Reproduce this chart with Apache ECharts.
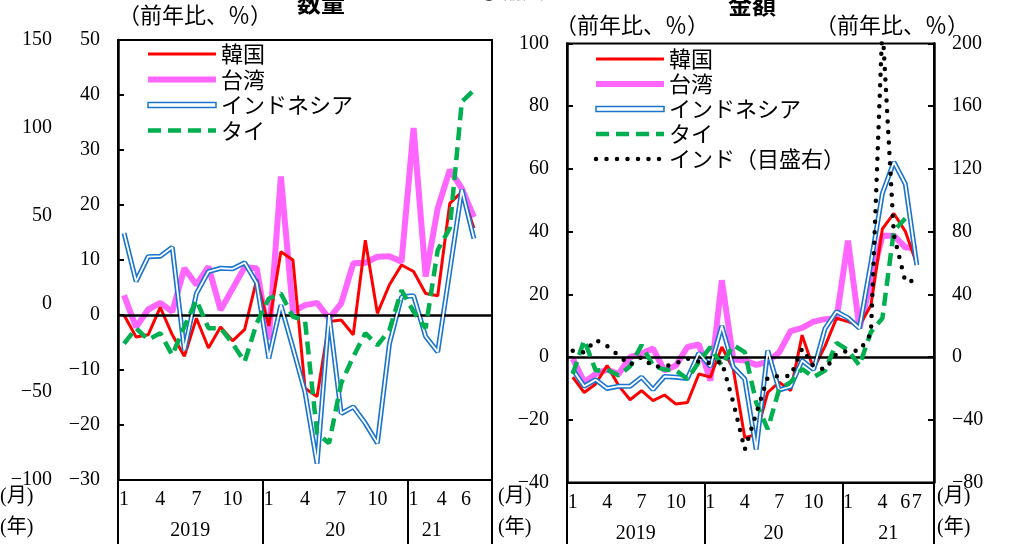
<!DOCTYPE html>
<html><head><meta charset="utf-8">
<script src="https://cdn.jsdelivr.net/npm/echarts@6/dist/echarts.min.js"></script>
<style>html,body{margin:0;padding:0;background:#fff}#c{width:1015px;height:544px}</style>
</head><body><div id="c"></div><script>
// ---- data ----
const categoriesQ = ['2019-01','2019-02','2019-03','2019-04','2019-05','2019-06','2019-07','2019-08','2019-09','2019-10','2019-11','2019-12',
  '2020-01','2020-02','2020-03','2020-04','2020-05','2020-06','2020-07','2020-08','2020-09','2020-10','2020-11','2020-12',
  '2021-01','2021-02','2021-03','2021-04','2021-05','2021-06','2021-07'];
const categoriesV = ['2019-01','2019-02','2019-03','2019-04','2019-05','2019-06','2019-07','2019-08','2019-09','2019-10','2019-11','2019-12',
  '2020-01','2020-02','2020-03','2020-04','2020-05','2020-06','2020-07','2020-08','2020-09','2020-10','2020-11','2020-12',
  '2021-01','2021-02','2021-03','2021-04','2021-05','2021-06','2021-07','2021-08'];
const monthTicksQ = ['1','','','4','','','7','','','10','','', '1','','','4','','','7','','','10','','', '1','','','4','','6',''];
const monthTicksV = ['1','','','4','','','7','','','10','','', '1','','','4','','','7','','','10','','', '1','','','4','','6','7',''];
const yearTicksQ = ['','','','','','2019','','','','','','', '','','','','','20','','','','','','', '','21','','','','',''];
const yearTicksV = ['','','','','','2019','','','','','','', '','','','','','20','','','','','','', '','','','21','','','',''];

// 数量 (前年比、%)
const koreaQ = [0, -4, -3.6, 1.4, -3.6, -7.5, -0.6, -6, -2.2, -4.7, -2.6, 6.5, -2, 11.5, 10, -13.3, -14.8, -1.2, -0.9, -3.6, 13.6, 0.3, 5.5, 9.1, 7.9, 3.9, 3.5, 20.3, 22.4, 15.8];
const taiwanQ = [3.6, -2.2, 1.0, 2.2, 0.6, 8.5, 5.5, 8.8, 0.9, 4.8, 8.7, 8.5, -4.5, 25.2, 0.6, 1.8, 2.2, -0.6, 2.1, 9.4, 9.5, 10.6, 10.7, 9.7, 34, 7.0, 19.4, 26.4, 23.0, 17.8];
const indonesiaQ = [14.9, 6.1, 10.6, 10.7, 12.3, -6.4, 3.9, 7.9, 8.5, 8.4, 9.5, 5.8, -7.9, 1.8, -6, -14, -27, 0, -17.9, -16.7, -19.7, -23.3, -5.2, 3.3, 3.5, -3.9, -6.7, 8, 22.8, 13.9];
const thaiQ = [-5.2, -2.4, -4.5, -3.3, -7.3, -2.1, 2.7, -2.4, -2.4, -5.2, -8.5, -1.5, 3.0, 3.9, -0.3, -1.0, -21.5, -23.3, -12.4, -7.6, -3.3, -5.5, -2.7, 4.5, 0.6, -2.4, 11.8, 15.8, 38.8, 40.9];

// 金額 (前年比、%) ; インドは右目盛
const koreaV = [-6.4, -11.3, -8.6, -2.7, -9.1, -13.6, -10.7, -13.9, -12.1, -15, -14.5, -5.4, -6.4, 3.2, -3.8, -25.7, -24.7, -11.3, -8.0, -10.7, 7.0, -3.8, 3.5, 12.4, 11.3, 10.0, 16.5, 40.9, 45.8, 40.1, 29.6];
const taiwanV = [-0.5, -8.0, -5.4, -4.0, -5.4, 0, 1.1, 2.7, -4.3, -2.7, 3.2, 4.0, -7.5, 24.5, -0.8, -1.1, -2.5, -1.5, 1.5, 8.3, 9.3, 11.3, 12.1, 12.3, 37.1, 9.2, 24, 38.7, 38.7, 35, 34.5];
const indonesiaV = [-4.0, -9.3, -7.2, -10, -9.3, -9.3, -6.4, -10.4, -6.2, -6.4, -6.8, 1.3, -3.0, 9.9, -3.2, -7.0, -29.5, 2.1, -10.5, -9.4, -1.1, -4.0, 9.1, 14.5, 12.5, 9.2, 30, 52.2, 62.2, 55.2, 29.3];
const thaiV = [-5.4, 5.4, -4.3, -4.0, -5.9, -2.9, 3.8, -2.7, -4.0, -4.3, -7.0, -1.6, 3.2, -2.7, 3.8, 1.6, -14.5, -23, -10.2, -8.0, -3.8, -6.4, -4.3, 4.5, 2.2, -2.7, 8, 12.4, 40.3, 44.2];
const indiaV = [4, 3, 11, 7, 1, -5, 0, -6, -6, -4, -1, -3, -4, -3, -29, -59, -36, -13, -12, -12, 5.4, -6, -8, 2, 4, 4, 15, 212, 78, 48, 49];

// ---- styles ----
const NUM_FONT = "'Liberation Serif','Noto Sans CJK JP'";
const JP_FONT = "'Noto Sans CJK JP'";
const C_KOREA = '#ff0000', C_TAIWAN = '#ff66ff', C_INDO = '#1874cd', C_THAI = '#00b050', C_INDIA = '#000000';

const chart = echarts.init(document.getElementById('c'), null, {renderer: 'canvas'});

function lineSeries(name, data, xi, yi, style, z) {
  return {name, type: 'line', data, xAxisIndex: xi, yAxisIndex: yi, symbol: 'none', showSymbol: false,
    lineStyle: style, itemStyle: {color: style.color}, z: z, animation: false, connectNulls: false};
}
const zeroLine = {silent: true, symbol: ['none', 'none'], label: {show: false}, animation: false,
  lineStyle: {color: '#000', width: 2.5, type: 'solid'}, data: [{yAxis: 0}]};

function monthAxis(grid, cats, ticks, shifted) {
  return {type: 'category', gridIndex: grid, data: cats, boundaryGap: true, position: 'bottom',
    axisLine: {show: true, onZero: false, lineStyle: {color: '#000', width: 2}},
    axisTick: {show: true, inside: false, length: 64, interval: (i) => i % 12 === 0, lineStyle: {color: '#000', width: 2}},
    axisLabel: {interval: 0, margin: 10, fontSize: 20, fontFamily: NUM_FONT, color: '#000',
      formatter: (v, i) => { const t = ticks[i] || ''; return (t && shifted.indexOf(i) >= 0) ? '{sh|' + t + '}' : t; },
      rich: {sh: {fontSize: 20, fontFamily: NUM_FONT, color: '#000', padding: [0, 16, 0, 0]}}},
    splitLine: {show: false}};
}
function yearAxis(grid, cats, ticks, band) {
  return {type: 'category', gridIndex: grid, data: cats, boundaryGap: true, position: 'bottom', offset: 31,
    axisLine: {show: false}, axisTick: {show: false}, splitLine: {show: false},
    axisLabel: {interval: 0, margin: 10, formatter: (v, i) => ticks[i] ? '{y|' + ticks[i] + '}' : '',
      rich: {y: {fontSize: 20, fontFamily: NUM_FONT, color: '#000', padding: [0, 0, 0, band]}}}};
}
function valAxis(grid, pos, min, max, interval, opts) {
  return Object.assign({type: 'value', gridIndex: grid, position: pos, min, max, interval,
    axisLine: {show: true, onZero: false, lineStyle: {color: '#000', width: 2.5}},
    axisTick: {show: true, inside: true, length: 6, lineStyle: {color: '#000', width: 2}},
    axisLabel: {margin: 18, fontSize: 20, fontFamily: NUM_FONT, color: '#000',
      formatter: (v) => (v < 0 ? '\u2212' + Math.abs(v) : String(v))},
    splitLine: {show: false}}, opts || {});
}

const legendText = {fontSize: 22, fontFamily: JP_FONT, color: '#000'};
const indoLegend = {name: 'インドネシア', icon: 'rect', itemStyle: {color: '#fff', borderColor: C_INDO, borderWidth: 1.5, opacity: 1}};
const legendBase = {orient: 'vertical', itemWidth: 68, itemHeight: 5, selectedMode: false, textStyle: legendText,
  itemStyle: {opacity: 0, borderWidth: 0}, lineStyle: {width: 'inherit', type: 'inherit', cap: 'inherit'}};

const option = {
  backgroundColor: '#fff',
  animation: false,
  grid: [
    {left: 118, top: 40, width: 374, height: 440, show: true, borderColor: '#000', borderWidth: 2, backgroundColor: 'transparent'},
    {left: 567, top: 43.5, width: 367, height: 439, show: true, borderColor: '#000', borderWidth: 2, backgroundColor: 'transparent'},
    {left: 118, top: 40, width: 374, height: 440, show: false},
    {left: 567, top: 43.5, width: 367, height: 439, show: false}
  ],
  xAxis: [
    monthAxis(0, categoriesQ, monthTicksQ, [27, 29]),
    monthAxis(1, categoriesV, monthTicksV, []),
    yearAxis(2, categoriesQ, yearTicksQ, 12),
    yearAxis(3, categoriesV, yearTicksV, 11.5)
  ],
  yAxis: [
    valAxis(0, 'left', -30, 50, 10),
    valAxis(1, 'left', -40, 100, 20),
    valAxis(1, 'right', -80, 200, 40),
    valAxis(2, 'left', -100, 150, 50, {offset: 48, axisLine: {show: false}, axisTick: {show: false}}),
    {type: 'value', gridIndex: 3, show: false, min: 0, max: 1}
  ],
  legend: [
    Object.assign({}, legendBase, {left: 140, top: 38, itemGap: 3.5, data: ['韓国', '台湾', indoLegend, 'タイ']}),
    Object.assign({}, legendBase, {left: 588, top: 43, itemGap: 3, data: ['韓国', '台湾', indoLegend, 'タイ', 'インド（目盛右）']})
  ],
  graphic: [
    {type: 'text', left: 297, top: -9, style: {text: '数量', fontSize: 24, fontWeight: 'bold', fontFamily: JP_FONT, fill: '#000'}},
    {type: 'text', left: 478, top: -21, style: {text: '③輸入', fontSize: 22, fontFamily: JP_FONT, fill: '#000'}},
    {type: 'text', left: 728, top: -7, style: {text: '金額', fontSize: 24, fontWeight: 'bold', fontFamily: JP_FONT, fill: '#000'}},
    {type: 'text', left: 118, top: 4, style: {text: '（前年比、％）', fontSize: 22, fontFamily: JP_FONT, fill: '#000'}},
    {type: 'text', left: 555, top: 14, style: {text: '（前年比、％）', fontSize: 22, fontFamily: JP_FONT, fill: '#000'}},
    {type: 'text', left: 815, top: 14, style: {text: '（前年比、％）', fontSize: 22, fontFamily: JP_FONT, fill: '#000'}},
    {type: 'text', left: 0, top: 487, style: {text: '(月)', fontSize: 20, fontFamily: NUM_FONT, fill: '#000'}},
    {type: 'text', left: 0, top: 518, style: {text: '(年)', fontSize: 20, fontFamily: NUM_FONT, fill: '#000'}},
    {type: 'text', left: 498, top: 487, style: {text: '(月)', fontSize: 20, fontFamily: NUM_FONT, fill: '#000'}},
    {type: 'text', left: 498, top: 518, style: {text: '(年)', fontSize: 20, fontFamily: NUM_FONT, fill: '#000'}},
    {type: 'text', left: 937, top: 487, style: {text: '(月)', fontSize: 20, fontFamily: NUM_FONT, fill: '#000'}},
    {type: 'text', left: 937, top: 518, style: {text: '(年)', fontSize: 20, fontFamily: NUM_FONT, fill: '#000'}}
  ],
  series: [
    Object.assign(lineSeries('韓国', koreaQ, 0, 0, {color: C_KOREA, width: 3}, 3), {markLine: zeroLine}),
    lineSeries('台湾', taiwanQ, 0, 0, {color: C_TAIWAN, width: 6}, 2),
    lineSeries('インドネシア', indonesiaQ, 0, 0, {color: C_INDO, width: 5}, 4),
    lineSeries('インドネシア内', indonesiaQ, 0, 0, {color: '#ffffff', width: 1.8}, 5),
    lineSeries('タイ', thaiQ, 0, 0, {color: C_THAI, width: 4.5, type: [13, 7]}, 6),

    Object.assign(lineSeries('韓国', koreaV, 1, 1, {color: C_KOREA, width: 3}, 3), {markLine: zeroLine}),
    lineSeries('台湾', taiwanV, 1, 1, {color: C_TAIWAN, width: 6}, 2),
    lineSeries('インドネシア', indonesiaV, 1, 1, {color: C_INDO, width: 5}, 4),
    lineSeries('インドネシア内', indonesiaV, 1, 1, {color: '#ffffff', width: 1.8}, 5),
    lineSeries('タイ', thaiV, 1, 1, {color: C_THAI, width: 4.5, type: [13, 7]}, 6),
    lineSeries('インド（目盛右）', indiaV, 1, 2, {color: C_INDIA, width: 4.5, type: [0, 10.5], cap: 'round'}, 7)
  ]
};
chart.setOption(option);
</script></body></html>
